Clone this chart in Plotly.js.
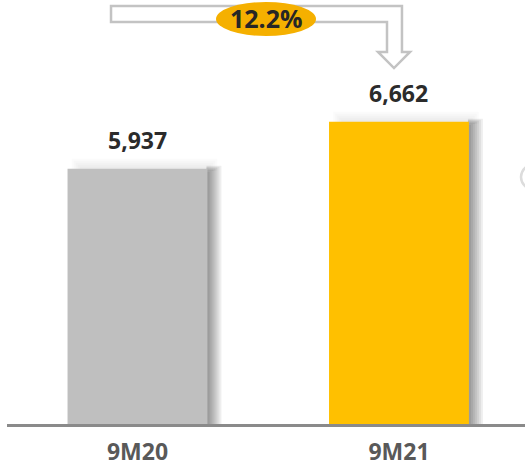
<!DOCTYPE html>
<html>
<head>
<meta charset="utf-8">
<script src="https://cdn.plot.ly/plotly-3.0.1.min.js"></script>
<style>html,body{margin:0;padding:0;background:#fff;}#chart{width:525px;height:467px;}</style>
</head>
<body>
<div id="chart"></div>
<script>
const categories = ['9M20', '9M21'];
const values = [5937, 6662];
const valueLabels = ['5,937', '6,662'];
const barColors = ['#BFBFBF', '#FFC000'];
const growthLabel = '12.2%';

const W = 525, H = 467;
const mL = 7, mR = 0, mT = 0, mB = 43;
const xRange = [-0.499, 1.482];
const yRange = [2000, 8540];
const plotW = W - mL - mR, plotH = H - mT - mB;
const pxX = (xRange[1] - xRange[0]) / plotW;   // data units per pixel (x)
const pxY = (yRange[1] - yRange[0]) / plotH;   // data units per pixel (y)
const barW = 0.535;
const FONT = '"Open Sans", "Noto Sans", sans-serif';

const shapes = [];
// soft drop shadows derived from each bar
values.forEach((v, i) => {
  const xl = i - barW / 2, xr = i + barW / 2;
  for (let k = 1; k <= 7; k++) {
    shapes.push({type: 'rect', xref: 'x', yref: 'y', layer: 'below',
      x0: xr - 1 * pxX, x1: xr + 2 * k * pxX, y0: yRange[0], y1: v - 4 * pxY + k * pxY,
      fillcolor: 'rgba(0,0,0,0.065)', line: {width: 0}});
  }
  for (let k = 1; k <= 5; k++) {
    shapes.push({type: 'rect', xref: 'x', yref: 'y', layer: 'below',
      x0: xl + (14 - 2 * k) * pxX, x1: xr + 2 * k * pxX, y0: v - 2 * pxY, y1: v + 2 * k * pxY,
      fillcolor: 'rgba(0,0,0,0.014)', line: {width: 0}});
  }
});

// pixel -> paper helpers for decorations
const px = p => (p - mL) / plotW;
const py = p => (mT + plotH - p) / plotH;
const pts = [[111,6],[402,6],[402,52],[410,52],[394,68],[378,52],[387,52],[387,22],[111,22]];
const path = 'M' + pts.map(p => px(p[0]).toFixed(4) + ',' + py(p[1]).toFixed(4)).join(' L') + ' Z';
shapes.push({type: 'path', xref: 'paper', yref: 'paper', path: path,
  fillcolor: '#ffffff', line: {color: '#C3C3C3', width: 2.5}, layer: 'above'});
shapes.push({type: 'circle', xref: 'paper', yref: 'paper', layer: 'above',
  x0: px(216), x1: px(316), y0: py(36), y1: py(2),
  fillcolor: '#F5B000', line: {width: 0}});
// partial faint element at right edge
shapes.push({type: 'circle', xref: 'paper', yref: 'paper', layer: 'above',
  x0: px(521), x1: px(560), y0: py(192), y1: py(162),
  fillcolor: 'rgba(0,0,0,0)', line: {color: '#DCDCDC', width: 2.5}});

const annotations = values.map((v, i) => ({
  x: categories[i], y: v, xref: 'x', yref: 'y', text: valueLabels[i],
  showarrow: false, yanchor: 'bottom', yshift: 11,
  font: {family: FONT, size: 23, color: '#2B2B2B', weight: 'bold'}
}));
annotations.push({x: px(266), y: py(18), xref: 'paper', yref: 'paper', text: growthLabel,
  showarrow: false, xanchor: 'center', yanchor: 'middle',
  font: {family: FONT, size: 25, color: '#262626', weight: 'bold'}});

const trace = {
  type: 'bar', x: categories, y: values, width: barW,
  marker: {color: barColors, line: {width: 0}},
  hoverinfo: 'skip', cliponaxis: false
};

const layout = {
  width: W, height: H,
  margin: {l: mL, r: mR, t: mT, b: mB, pad: 0},
  paper_bgcolor: '#ffffff', plot_bgcolor: '#ffffff',
  showlegend: false,
  xaxis: {type: 'category', range: xRange, showgrid: false, zeroline: false,
    showline: true, linecolor: '#8A8A8A', linewidth: 3, ticks: '', ticklabelstandoff: 5,
    tickfont: {family: FONT, size: 23, color: '#595959', weight: 'bold'}, fixedrange: true},
  yaxis: {range: yRange, showgrid: false, zeroline: false, showline: false,
    showticklabels: false, ticks: '', fixedrange: true},
  shapes: shapes, annotations: annotations
};

Plotly.newPlot('chart', [trace], layout, {displayModeBar: false, staticPlot: true});
</script>
</body>
</html>
